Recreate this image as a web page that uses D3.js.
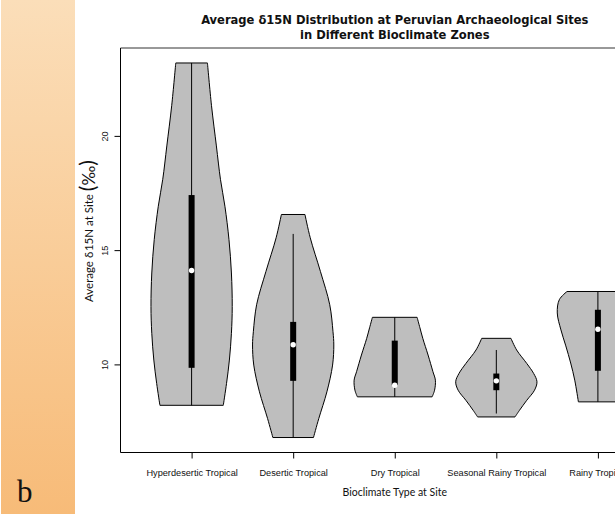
<!DOCTYPE html>
<html>
<head>
<meta charset="utf-8">
<script src="https://cdn.jsdelivr.net/npm/d3@7"></script>
<style>
  body { margin: 0; background: #fff; }
  svg { display: block; }
</style>
</head>
<body>
<svg id="chart" width="615" height="514"></svg>
<script>
// Bioclimate zones, left to right
const categories = [
  "Hyperdesertic Tropical",
  "Desertic Tropical",
  "Dry Tropical",
  "Seasonal Rainy Tropical",
  "Rainy Tropical"
];

// Summary statistics of average site δ15N (‰) per zone
const whiskerLow  = [8.21, 6.80, 8.58, 7.85, 8.36];
const whiskerHigh = [23.19, 15.71, 12.06, 10.63, 13.19];
const q1          = [9.85, 9.28, 9.09, 8.87, 9.72];
const medians     = [14.11, 10.86, 9.09, 9.28, 11.54];
const q3          = [17.41, 11.86, 11.04, 9.60, 12.39];

// Kernel density profiles: [δ15N value, density relative to the zone's peak]
const densityHyperdesertic = [
  [23.19, 0.39], [21.32, 0.49], [19.56, 0.61], [18.10, 0.71], [16.92, 0.82],
  [15.46, 0.92], [14.00, 0.98], [12.53, 1.00], [11.36, 0.98], [10.19, 0.93],
  [9.17, 0.86], [8.21, 0.78]
];
const densityDesertic = [
  [16.56, 0.29], [15.54, 0.42], [14.07, 0.67], [12.61, 0.90], [11.43, 0.98],
  [10.85, 1.00], [9.97, 0.97], [8.80, 0.83], [7.63, 0.63], [6.80, 0.50]
];
const densityDry = [
  [12.06, 0.55], [11.60, 0.62], [11.14, 0.69], [10.41, 0.82], [9.68, 0.94],
  [9.31, 1.00], [8.87, 0.98], [8.58, 0.92]
];
const densitySeasonalRainy = [
  [11.14, 0.36], [10.63, 0.50], [10.04, 0.75], [9.60, 0.92], [9.24, 1.00],
  [8.87, 0.94], [8.43, 0.75], [7.99, 0.57], [7.70, 0.46]
];
const densityRainy = [
  [13.19, 0.76], [12.83, 0.95], [12.25, 1.00], [11.51, 0.91], [10.81, 0.79],
  [10.06, 0.67], [9.31, 0.57], [8.36, 0.48]
];
const densities = [
  densityHyperdesertic, densityDesertic, densityDry,
  densitySeasonalRainy, densityRainy
];

const yTicks = [10, 15, 20];

const svg = d3.select("#chart");

// Side panel with the figure letter
const defs = svg.append("defs");
const grad = defs.append("linearGradient")
  .attr("id", "panelGrad").attr("x1", 0).attr("y1", 0).attr("x2", 0).attr("y2", 1);
grad.append("stop").attr("offset", "0%").attr("stop-color", "#fbdeb9");
grad.append("stop").attr("offset", "100%").attr("stop-color", "#f7bb78");
svg.append("rect").attr("x", 1).attr("y", 0).attr("width", 74).attr("height", 514)
  .attr("fill", "url(#panelGrad)");
svg.append("text").attr("x", 17).attr("y", 502)
  .attr("font-family", "Liberation Serif, serif").attr("font-size", 31)
  .attr("fill", "#111").text("b");

// Plot region
const plot = { left: 120.5, top: 48, right: 669, bottom: 452.5 };

const x = d3.scaleLinear()
  .domain([0.5 - 0.2, categories.length + 0.5 + 0.2])
  .range([plot.left, plot.right]);

const dataMin = d3.min(whiskerLow.concat(densities.map(d => d3.min(d, p => p[0]))));
const dataMax = d3.max(whiskerHigh.concat(densities.map(d => d3.max(d, p => p[0]))));
const pad = (dataMax - dataMin) * 0.04;
const y = d3.scaleLinear()
  .domain([dataMin - pad, dataMax + pad])
  .range([plot.bottom, plot.top]);

const halfWidth = 0.4; // peak half-width in category units

const clip = defs.append("clipPath").attr("id", "plotClip");
clip.append("rect").attr("x", plot.left).attr("y", plot.top)
  .attr("width", plot.right - plot.left).attr("height", plot.bottom - plot.top);

const g = svg.append("g").attr("clip-path", "url(#plotClip)");

categories.forEach((cat, i) => {
  const cx = i + 1;
  const area = d3.area()
    .y(d => y(d[0]))
    .x0(d => x(cx - d[1] * halfWidth))
    .x1(d => x(cx + d[1] * halfWidth))
    .curve(d3.curveCatmullRom.alpha(0.5));

  g.append("path")
    .attr("d", area(densities[i]))
    .attr("fill", "#bebebe")
    .attr("stroke", "#000")
    .attr("stroke-width", 1);

  g.append("line")
    .attr("x1", x(cx)).attr("x2", x(cx))
    .attr("y1", y(whiskerLow[i])).attr("y2", y(whiskerHigh[i]))
    .attr("stroke", "#000").attr("stroke-width", 1);

  g.append("rect")
    .attr("x", x(cx) - 3).attr("width", 6)
    .attr("y", y(q3[i])).attr("height", y(q1[i]) - y(q3[i]))
    .attr("fill", "#000");

  g.append("circle")
    .attr("cx", x(cx)).attr("cy", y(medians[i])).attr("r", 2.7)
    .attr("fill", "#fff");
});

// Frame
const frame = svg.append("g").attr("fill", "none");
frame.append("line").attr("x1", plot.left).attr("x2", plot.right)
  .attr("y1", plot.top).attr("y2", plot.top).attr("stroke", "#333").attr("stroke-width", 1);
frame.append("line").attr("x1", plot.left).attr("x2", plot.right)
  .attr("y1", plot.bottom).attr("y2", plot.bottom).attr("stroke", "#000");
frame.append("line").attr("x1", plot.left).attr("x2", plot.left)
  .attr("y1", plot.top).attr("y2", plot.bottom).attr("stroke", "#000");
frame.append("line").attr("x1", plot.right).attr("x2", plot.right)
  .attr("y1", plot.top).attr("y2", plot.bottom).attr("stroke", "#000");

// X axis
const xAxis = d3.axisBottom(x)
  .tickValues(d3.range(1, categories.length + 1))
  .tickFormat(d => categories[d - 1])
  .tickSize(6).tickPadding(11);
const gx = svg.append("g").attr("transform", `translate(0,${plot.bottom})`).call(xAxis);
gx.select(".domain").remove();
gx.selectAll("text").attr("font-family", "Liberation Sans, Arial, sans-serif")
  .attr("font-size", 9.2).attr("fill", "#111");
gx.selectAll("line").attr("stroke", "#000");

// Y axis with labels parallel to the axis
const yAxis = d3.axisLeft(y).tickValues(yTicks).tickSize(6);
const gy = svg.append("g").attr("transform", `translate(${plot.left},0)`).call(yAxis);
gy.select(".domain").remove();
gy.selectAll("line").attr("stroke", "#000");
gy.selectAll("text")
  .attr("font-family", "Liberation Sans, Arial, sans-serif").attr("font-size", 9.2)
  .attr("fill", "#111")
  .attr("text-anchor", "middle")
  .attr("x", null).attr("dy", null)
  .attr("transform", "translate(-13,0) rotate(-90)");

// Axis titles
svg.append("text")
  .attr("x", x(3)).attr("y", 496)
  .attr("text-anchor", "middle")
  .attr("font-family", "Lato, sans-serif").attr("font-size", 10.5)
  .attr("fill", "#111")
  .text("Bioclimate Type at Site");

const yTitle = svg.append("text")
  .attr("transform", "translate(93,302) rotate(-90)")
  .attr("font-family", "Lato, sans-serif").attr("font-size", 11.5)
  .attr("fill", "#111");
yTitle.append("tspan").text("Average δ\u200a15N at Site ");
yTitle.append("tspan").attr("font-size", 21).attr("dy", 1.5).text("(");
yTitle.append("tspan").attr("font-size", 17).text("‰");
yTitle.append("tspan").attr("font-size", 21).text(")");

// Title
const title = svg.append("text")
  .attr("text-anchor", "middle")
  .attr("font-family", "DejaVu Sans Condensed, DejaVu Sans, sans-serif")
  .attr("font-weight", "bold").attr("font-size", 12.8).attr("fill", "#111");
title.append("tspan").attr("x", x(3)).attr("y", 24)
  .text("Average δ15N Distribution at Peruvian Archaeological Sites");
title.append("tspan").attr("x", x(3)).attr("y", 38.5)
  .text("in Different Bioclimate Zones");
</script>
</body>
</html>
